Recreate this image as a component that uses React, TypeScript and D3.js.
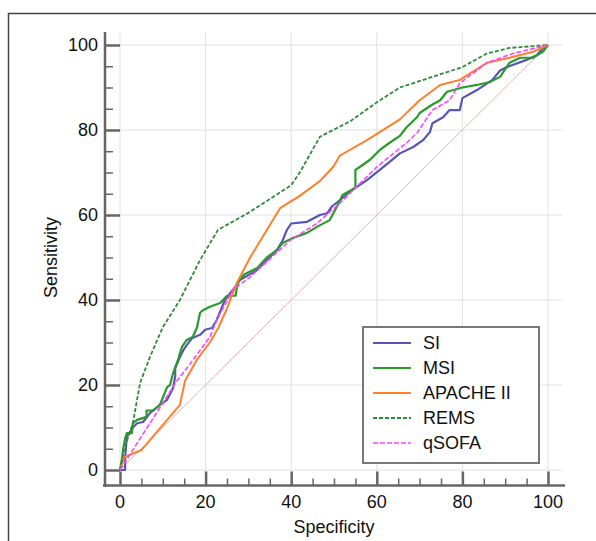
import React, { useEffect, useRef } from "react";
import * as d3 from "d3";

// [specificity, sensitivity] pairs
const siPoints: [number, number][] = [
  [0, 0], [1.2, 0], [1.2, 2.8], [1.6, 7.8], [3, 10], [4, 11], [5.4, 11.3], [7, 13.4], [9.3, 15.3],
  [11, 16.5], [12.4, 19.3], [12.9, 22], [12.9, 24], [14, 26.6], [14.8, 28.2], [15.6, 29.4], [16.8, 31],
  [18.7, 31.8], [19.9, 33], [21.5, 33.4], [22.6, 35.3], [24.5, 40], [26.4, 42.4], [28, 44.7], [32, 47],
  [34.3, 49.4], [36.7, 51.8], [38, 54], [39, 56.5], [40, 58], [43.7, 58.4], [46.7, 60], [48.4, 60.4],
  [49.5, 62], [52, 64], [54.4, 66], [57.7, 68.2], [60.7, 70.6], [63, 72.5], [65.4, 74.5], [68.5, 76],
  [70.8, 77.6], [72.4, 79.5], [73, 81.6], [75.5, 83], [77, 84.7], [79.4, 84.7], [80, 87.5], [83.4, 89.4],
  [87, 91.8], [88.8, 94], [90.4, 94.8], [95, 96.5], [97.4, 97.6], [98.8, 99.3], [100, 100],
];
const msiPoints: [number, number][] = [
  [0, 0], [0.5, 2.8], [0.7, 4.7], [1.2, 7.5], [1.6, 8.7], [2.8, 8.7], [3, 11], [4, 11.8], [6.2, 12.5],
  [6.2, 14], [7.8, 14], [9.3, 15.3], [10, 17], [11, 19.5], [11.7, 20], [12.4, 22.8], [13.6, 26], [14, 27.5],
  [14.5, 29], [15.6, 30.6], [17, 31.3], [18, 33.6], [18.7, 37], [19.4, 37.6], [21, 38.4], [23.4, 39.3],
  [25, 41], [27, 41], [27.5, 44], [29, 46], [32, 47.5], [34.3, 50], [36.7, 51.8], [38, 53.4], [40.4, 54.6],
  [43.7, 55.8], [46, 57.2], [49, 58.8], [50.7, 62], [52, 64.7], [55, 66.4], [55, 70.6], [56, 71.3],
  [58.4, 73], [60.7, 75.3], [63, 77], [65.4, 78.6], [67, 80.7], [69.4, 83], [70, 84], [73, 86], [74.8, 87],
  [76.4, 89], [80, 90], [83.4, 90.6], [86.4, 91.3], [88.8, 92.5], [91, 95.8], [93.5, 97], [96.5, 97],
  [97.4, 97.6], [98.8, 98.4], [100, 100],
];
const apachePoints: [number, number][] = [
  [0, 0], [1, 3], [5, 4.7], [14, 15.3], [15.2, 21], [18, 26], [21, 30], [23, 33.5], [25, 38], [27.3, 44],
  [30.4, 50], [37.4, 61.6], [40.4, 63.5], [42, 64.5], [46.7, 68], [49.8, 71.3], [51.4, 74], [57.7, 77.6],
  [65.4, 82.5], [70, 87], [74.8, 90.6], [79.4, 91.8], [85.7, 95.8], [91, 97], [96.5, 98.4], [100, 100],
];
const remsPoints: [number, number][] = [
  [0, 0], [1, 5], [3, 11], [4.7, 20.5], [7, 26.6], [10, 33.6], [14, 40], [18.7, 49.4], [22.9, 56.5],
  [30, 60.5], [40, 67], [42, 70], [46.7, 78.4], [53.7, 82], [60, 86.5], [65.4, 90], [73, 92.5], [80, 94.8],
  [85.7, 98], [91, 99.3], [100, 100],
];
const qsofaPoints: [number, number][] = [
  [0, 0], [7.5, 11.8], [13.3, 21], [16.4, 25], [21, 31.3], [22.6, 35.3], [26.4, 42.4], [30.4, 45.4],
  [39.7, 54], [46, 58], [51.4, 62.8], [60, 71.3], [67, 77], [69.4, 79.3], [73, 84.7], [77, 87], [79.4, 91],
  [85.7, 95.8], [91.8, 98], [100, 100],
];

const seriesNames = ["SI", "MSI", "APACHE II", "REMS", "qSOFA"];
const seriesData = [siPoints, msiPoints, apachePoints, remsPoints, qsofaPoints];
const seriesColors = ["#5656b8", "#2a9a2a", "#ff7f2a", "#2e8b3a", "#ff44ff"];
const seriesDash = [null, null, null, "4,2", "5,2"];
const seriesWidth = [2.2, 2.2, 2, 1.8, 1.6];

const majorTicks = [0, 20, 40, 60, 80, 100];
const minorTicks = d3.range(0, 101, 5);

export default function App() {
  const ref = useRef<SVGSVGElement>(null);

  useEffect(() => {
    const svg = d3.select(ref.current);
    svg.selectAll("*").remove();

    const x = d3.scaleLinear().domain([0, 100]).range([120, 548]);
    const y = d3.scaleLinear().domain([0, 100]).range([470, 45]);
    const font = "Liberation Sans, Arial, sans-serif";
    const fs = 18;

    // outer frame
    svg.append("rect")
      .attr("x", 8.5).attr("y", 13.5).attr("width", 620).attr("height", 560)
      .attr("fill", "none").attr("stroke", "#444").attr("stroke-width", 1.5);

    // grid
    const grid = svg.append("g").attr("stroke", "#e2e2e2").attr("stroke-width", 1);
    grid.selectAll(".v").data(majorTicks).enter().append("line")
      .attr("x1", d => x(d)).attr("x2", d => x(d))
      .attr("y1", y(103)).attr("y2", y(-3));
    grid.selectAll(".h").data(majorTicks).enter().append("line")
      .attr("y1", d => y(d)).attr("y2", d => y(d))
      .attr("x1", x(-3.2)).attr("x2", x(103.5));

    // diagonal reference
    svg.append("line")
      .attr("x1", x(0)).attr("y1", y(0)).attr("x2", x(100)).attr("y2", y(100))
      .attr("stroke", "#d9b5ad").attr("stroke-width", 1);

    // y axis: ticks pointing inward, labels on the left
    const yAxisX = 105;
    const yAxis = svg.append("g").attr("transform", `translate(${yAxisX},0)`);
    yAxis.call(d3.axisRight(y).tickValues(minorTicks).tickSize(8).tickFormat(() => ""));
    yAxis.selectAll(".tick line")
      .attr("x2", (d: any) => (d % 20 === 0 ? x(0) - yAxisX : 8))
      .attr("stroke", "#666").attr("stroke-width", (d: any) => (d % 20 === 0 ? 2.5 : 1.5));
    yAxis.select(".domain").remove();
    svg.append("line")
      .attr("x1", yAxisX).attr("x2", yAxisX).attr("y1", 32).attr("y2", 487)
      .attr("stroke", "#666").attr("stroke-width", 2.5);
    svg.append("g").selectAll("text").data(majorTicks).enter().append("text")
      .attr("x", 98).attr("y", d => y(d)).attr("dy", "0.35em")
      .attr("text-anchor", "end").attr("font-family", font).attr("font-size", fs)
      .attr("fill", "#111").text(d => d);

    // x axis
    const xAxisY = 485.5;
    const xAxis = svg.append("g").attr("transform", `translate(0,${xAxisY})`);
    xAxis.call(d3.axisTop(x).tickValues(minorTicks).tickSize(7).tickFormat(() => ""));
    xAxis.selectAll(".tick line")
      .attr("y2", (d: any) => (d % 20 === 0 ? -14 : -7))
      .attr("stroke", "#666").attr("stroke-width", (d: any) => (d % 20 === 0 ? 2.5 : 1.5));
    xAxis.select(".domain").remove();
    svg.append("line")
      .attr("x1", 103).attr("x2", 565).attr("y1", xAxisY).attr("y2", xAxisY)
      .attr("stroke", "#666").attr("stroke-width", 2.5);
    svg.append("g").selectAll("text").data(majorTicks).enter().append("text")
      .attr("x", d => x(d)).attr("y", 508)
      .attr("text-anchor", "middle").attr("font-family", font).attr("font-size", fs)
      .attr("fill", "#111").text(d => d);

    // axis titles
    svg.append("text")
      .attr("x", x(50)).attr("y", 533).attr("text-anchor", "middle")
      .attr("font-family", font).attr("font-size", fs).attr("fill", "#111")
      .text("Specificity");
    svg.append("text")
      .attr("transform", `translate(57,${y(50)}) rotate(-90)`).attr("text-anchor", "middle")
      .attr("font-family", font).attr("font-size", fs).attr("fill", "#111")
      .text("Sensitivity");

    // ROC curves
    const line = d3.line<[number, number]>().x(d => x(d[0])).y(d => y(d[1]));
    seriesData.forEach((pts, i) => {
      svg.append("path")
        .datum(pts)
        .attr("d", line)
        .attr("fill", "none")
        .attr("stroke", seriesColors[i])
        .attr("stroke-width", seriesWidth[i])
        .attr("stroke-linejoin", "round")
        .attr("stroke-dasharray", seriesDash[i]);
    });

    // legend
    const lg = svg.append("g").attr("transform", "translate(363,327)");
    lg.append("rect").attr("width", 176).attr("height", 136)
      .attr("fill", "#fff").attr("stroke", "#777").attr("stroke-width", 2);
    seriesNames.forEach((name, i) => {
      const yy = 16 + i * 25;
      lg.append("line").attr("x1", 10).attr("x2", 48).attr("y1", yy).attr("y2", yy)
        .attr("stroke", seriesColors[i]).attr("stroke-width", seriesWidth[i])
        .attr("stroke-dasharray", seriesDash[i]);
      lg.append("text").attr("x", 60).attr("y", yy).attr("dy", "0.35em")
        .attr("font-family", font).attr("font-size", fs).attr("fill", "#111").text(name);
    });
  }, []);

  return (
    <svg
      ref={ref}
      width={596}
      height={541}
      style={{ position: "absolute", left: 0, top: 0, background: "#fff" }}
    />
  );
}
